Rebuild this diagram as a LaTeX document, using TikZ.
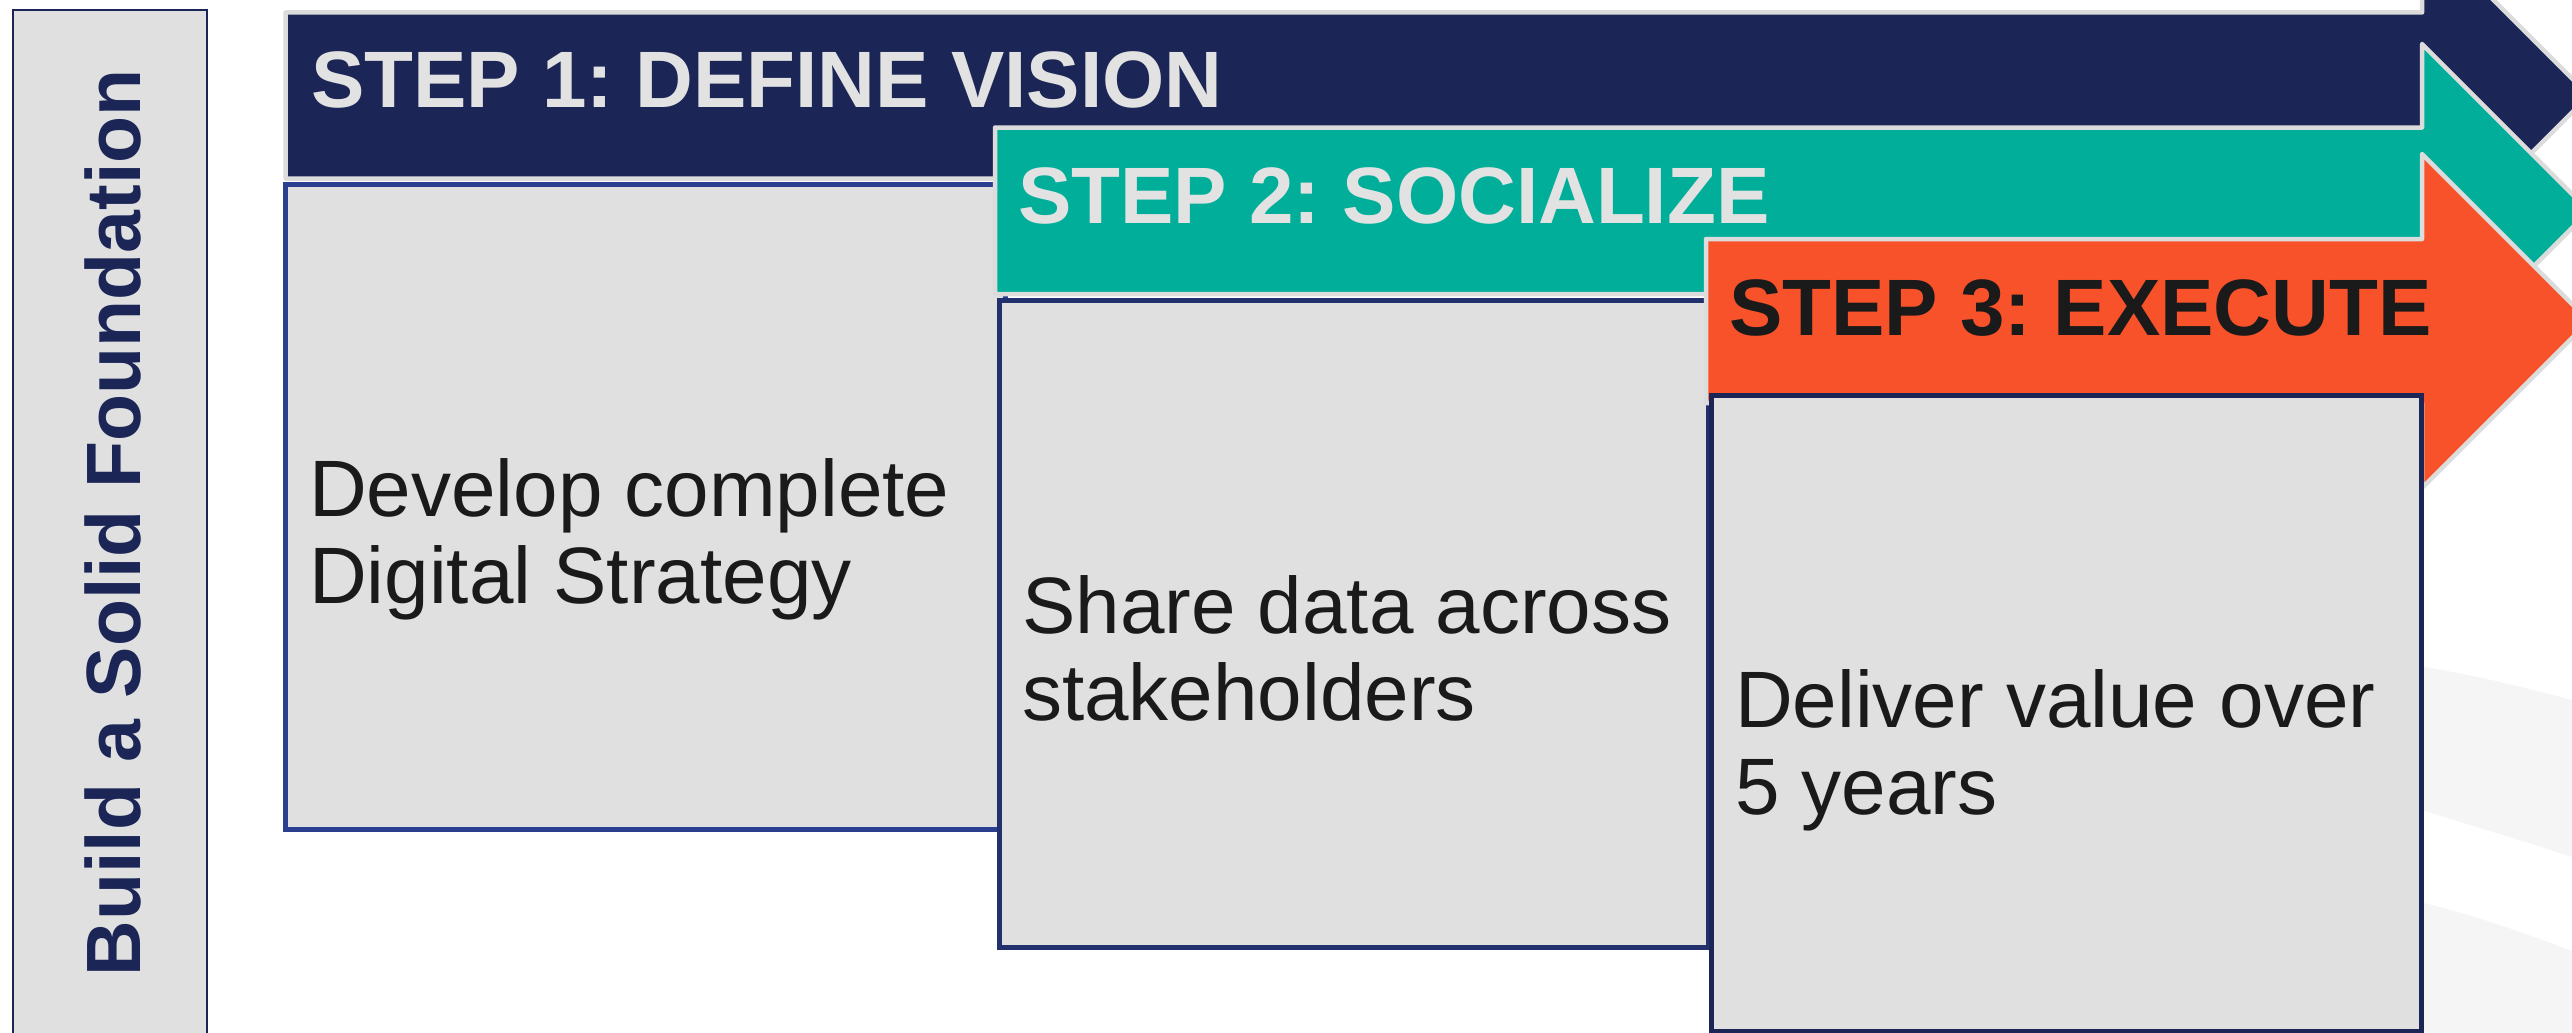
\documentclass[tikz,border=0pt]{standalone}
\usepackage{fontspec}
\setmainfont{Liberation Sans}
\frenchspacing
\definecolor{navyA}{HTML}{1B2656}
\definecolor{tealA}{HTML}{00AE99}
\definecolor{orangeA}{HTML}{F8522A}
\definecolor{boxfill}{HTML}{E0E0E0}
\definecolor{edgegray}{HTML}{DCDCDC}
\definecolor{bandgray}{HTML}{F5F5F5}
\definecolor{bordA}{HTML}{2A3F8F}
\definecolor{bordB}{HTML}{22306E}
\definecolor{bordC}{HTML}{1B2656}
\definecolor{darktext}{HTML}{1A1A1A}
\definecolor{lighttext}{HTML}{E2E2E2}
\begin{document}
\begin{tikzpicture}[x=1pt,y=-1pt,
  arrowshape/.style={draw=edgegray, line width=4.5pt, line join=round},
  stepbox/.style={fill=boxfill, line width=5pt},
  steptitle/.style={anchor=base west, inner sep=0pt, font=\bfseries\fontsize{80}{80}\selectfont},
  bodytext/.style={anchor=base west, inner sep=0pt, align=left, text=darktext, font=\fontsize{80}{87}\selectfont}]
\useasboundingbox (0,0) rectangle (2572,1033);
% faint background bands
\fill[bandgray] (2424,667) .. controls (2480,676) and (2530,689) .. (2572,700) -- (2572,857) .. controls (2530,843) and (2480,828) .. (2424,811) -- cycle;
\fill[bandgray] (2424,903) .. controls (2480,917) and (2530,935) .. (2572,951) -- (2572,1040) -- (2424,1040) -- cycle;
% left foundation panel
\draw[navyA, line width=2pt, fill=boxfill] (13,10.5) rectangle (207,1045);
\node[rotate=90, anchor=base, inner sep=0pt, text=navyA, font=\bfseries\fontsize{77}{77}\selectfont] (found) at (140,523) {Build a Solid Foundation};
% step 1
\path[arrowshape, fill=navyA] (285.5,12.5) -- (2422,12.5) -- (2422,-71.5) -- (2589,95.5) -- (2422,262.5) -- (2422,178.5) -- (285.5,178.5) -- cycle;
\node[steptitle, text=lighttext] (t1) at (311,107) {STEP 1: DEFINE VISION};
\draw[stepbox, draw=bordA] (285.5,184.5) rectangle (1005,829.5);
\node[bodytext] (d1) at (309,603) {Develop complete\\Digital Strategy};
% step 2
\path[arrowshape, fill=tealA] (995,127.5) -- (2422,127.5) -- (2422,44) -- (2589,211) -- (2422,378) -- (2422,294) -- (995,294) -- cycle;
\node[steptitle, text=lighttext] (t2) at (1018,223) {STEP 2: SOCIALIZE};
\draw[stepbox, draw=bordB] (999.5,300.5) rectangle (1708,947.5);
\node[bodytext] (d2) at (1022,720) {Share data across\\stakeholders};
% step 3
\path[arrowshape, fill=orangeA] (1706,239) -- (2422,239) -- (2422,154) -- (2589,321) -- (2422,488) -- (2422,403) -- (1706,403) -- cycle;
\node[steptitle, text=darktext] (t3) at (1729,335) {STEP 3: EXECUTE};
\draw[stepbox, draw=bordC] (1711.5,395.5) rectangle (2421,1031);
\node[bodytext] (d3) at (1735,814) {Deliver value over\\5 years};
\end{tikzpicture}
\end{document}
